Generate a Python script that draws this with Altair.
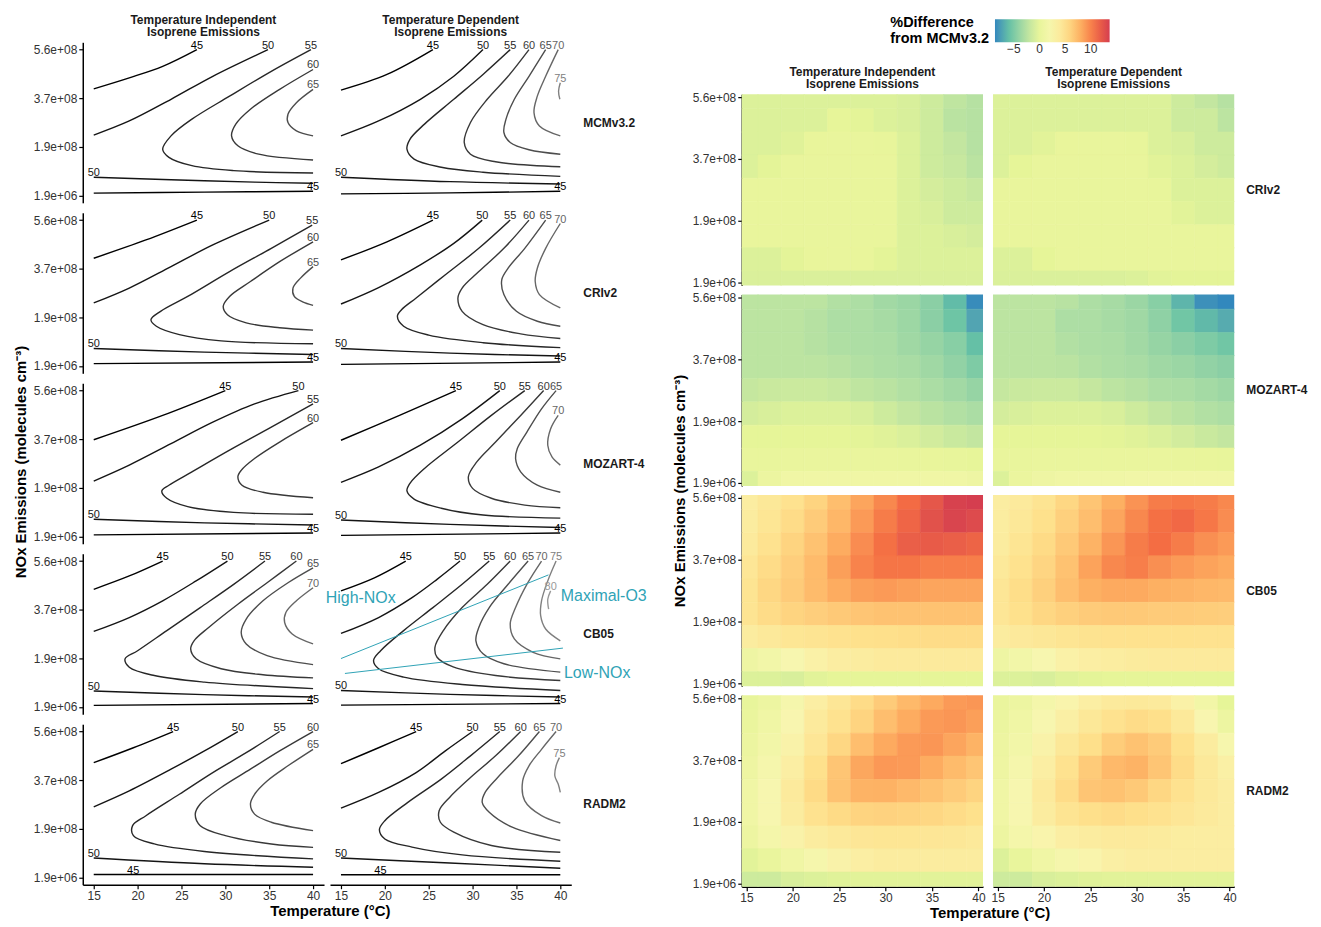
import altair as alt
import pandas as pd

FONT = "Liberation Sans"
TEAL = "#2fa3b6"

MECHS = ["MCMv3.2", "CRIv2", "MOZART-4", "CB05", "RADM2"]
HEAT_MECHS = ["CRIv2", "MOZART-4", "CB05", "RADM2"]
EMIS = {"TI": "Temperature Independent", "TD": "Temperature Dependent"}
EMIS_ORDER = ["Temperature Independent", "Temperature Dependent"]
LEVELS = [45, 50, 55, 60, 65, 70, 75, 80]
LEVEL_GREYS = ["#000000", "#141414", "#262626", "#383838", "#4d4d4d", "#666666", "#808080", "#999999"]

T_TICKS = [15, 20, 25, 30, 35, 40]
NOX_TICKS = [0.019, 1.879, 3.74, 5.6]  # units of 1e8 molecules cm-3

# O3 isopleths: mechanism, emissions, level, label position, temperatures (C), NOx (1e8)
CONTOURS = [
    ("MCMv3.2", "TI", 45, "e", [15, 19.05, 22.86, 26.76], [4.10, 4.52, 4.96, 5.60]),
    ("MCMv3.2", "TI", 50, "e", [15, 19.05, 23.81, 28.57, 34.86], [2.33, 2.87, 3.70, 4.58, 5.60]),
    ("MCMv3.2", "TI", 55, "s", [39.76, 35.24, 30.48, 26.19, 23.81, 22.86, 23.57, 26.19, 30.95, 40], [5.60, 4.77, 3.82, 2.94, 2.30, 1.79, 1.48, 1.16, 0.97, 0.88]),
    ("MCMv3.2", "TI", 60, "s", [40, 36.19, 32.86, 31.19, 30.71, 31.43, 33.81, 40], [4.84, 4.08, 3.32, 2.75, 2.30, 1.92, 1.60, 1.38]),
    ("MCMv3.2", "TI", 65, "s", [40, 38.1, 37.14, 37.14, 38.1, 40], [4.08, 3.57, 3.13, 2.81, 2.49, 2.30]),
    ("MCMv3.2", "TI", 50, "sl", [15, 23.81, 33.33, 40], [0.72, 0.62, 0.53, 0.49]),
    ("MCMv3.2", "TI", 45, "el", [15, 27.6, 40], [0.11, 0.15, 0.18]),

    ("MCMv3.2", "TD", 45, "e", [15, 20.24, 25.48], [4.05, 4.65, 5.60]),
    ("MCMv3.2", "TD", 50, "e", [15, 19.29, 24.05, 27.86, 31.19], [2.30, 2.87, 3.70, 4.58, 5.60]),
    ("MCMv3.2", "TD", 55, "s", [34.29, 31.19, 27.86, 24.52, 22.86, 22.52, 23.33, 26.43, 31.19, 40], [5.60, 4.65, 3.70, 2.75, 2.17, 1.79, 1.41, 1.10, 0.91, 0.75]),
    ("MCMv3.2", "TD", 60, "s", [36.43, 34.05, 31.67, 29.76, 29.05, 29.76, 32.62, 40], [5.60, 4.58, 3.70, 2.81, 2.05, 1.60, 1.31, 1.12]),
    ("MCMv3.2", "TD", 65, "s", [38.33, 36.43, 34.76, 33.81, 33.57, 34.29, 36.43, 40], [5.60, 4.58, 3.70, 2.94, 2.43, 2.05, 1.77, 1.60]),
    ("MCMv3.2", "TD", 70, "s", [39.76, 38.33, 37.38, 37.0, 37.62, 40], [5.60, 4.58, 3.82, 3.19, 2.68, 2.30]),
    ("MCMv3.2", "TD", 75, "s", [40, 39.8, 39.95], [4.33, 4.01, 3.70]),
    ("MCMv3.2", "TD", 50, "sl", [15, 27.4, 40], [0.72, 0.55, 0.46]),
    ("MCMv3.2", "TD", 45, "el", [15, 27.4, 40], [0.08, 0.12, 0.18]),

    ("CRIv2", "TI", 45, "e", [15, 20.95, 26.76], [4.14, 4.84, 5.60]),
    ("CRIv2", "TI", 50, "e", [15, 19.05, 23.81, 28.57, 35], [2.43, 3.0, 3.82, 4.65, 5.60]),
    ("CRIv2", "TI", 55, "s", [39.9, 35.24, 30.48, 25.71, 22.62, 21.52, 22.14, 24.76, 29.52, 40], [5.41, 4.52, 3.63, 2.68, 2.11, 1.79, 1.54, 1.22, 0.98, 0.87]),
    ("CRIv2", "TI", 60, "s", [40, 36.19, 32.86, 30.48, 29.76, 30.24, 32.38, 36.19, 40], [4.77, 4.01, 3.25, 2.68, 2.30, 1.98, 1.67, 1.48, 1.39]),
    ("CRIv2", "TI", 65, "s", [40, 38.57, 37.71, 37.86, 38.81, 40], [3.82, 3.38, 3.0, 2.68, 2.47, 2.34]),
    ("CRIv2", "TI", 50, "sl", [15, 27.6, 40], [0.69, 0.55, 0.46]),
    ("CRIv2", "TI", 45, "el", [15, 40], [0.11, 0.17]),

    ("CRIv2", "TD", 45, "e", [15, 20.24, 25.48], [4.08, 4.77, 5.60]),
    ("CRIv2", "TD", 50, "e", [15, 19.29, 24.05, 27.86, 31.1], [2.39, 3.02, 3.89, 4.71, 5.60]),
    ("CRIv2", "TD", 55, "s", [34.29, 30.71, 26.9, 23.57, 21.9, 21.43, 22.14, 25.0, 31.19, 40], [5.60, 4.52, 3.51, 2.62, 2.17, 1.92, 1.54, 1.20, 0.91, 0.72]),
    ("CRIv2", "TD", 60, "s", [36.43, 33.57, 30.71, 28.81, 28.33, 28.81, 31.19, 35.48, 40], [5.60, 4.52, 3.63, 3.0, 2.62, 2.11, 1.60, 1.25, 1.07]),
    ("CRIv2", "TD", 65, "s", [38.33, 35.95, 34.05, 33.33, 33.57, 35.0, 37.38, 40], [5.60, 4.52, 3.76, 3.32, 2.75, 2.11, 1.73, 1.54]),
    ("CRIv2", "TD", 70, "s", [40, 38.33, 37.38, 37.14, 37.62, 40], [5.47, 4.52, 3.76, 3.25, 2.75, 2.24]),
    ("CRIv2", "TD", 50, "sl", [15, 27.4, 40], [0.69, 0.51, 0.40]),
    ("CRIv2", "TD", 45, "el", [15, 40], [0.08, 0.17]),

    ("MOZART-4", "TI", 45, "e", [15, 22.86, 30.0], [3.72, 4.65, 5.60]),
    ("MOZART-4", "TI", 50, "e", [15, 19.05, 23.81, 28.57, 33.33, 38.33], [2.14, 2.75, 3.57, 4.39, 5.09, 5.60]),
    ("MOZART-4", "TI", 55, "s", [40, 35.24, 30.48, 26.19, 23.57, 22.76, 23.33, 25.71, 30.95, 40], [5.09, 4.20, 3.32, 2.49, 1.98, 1.76, 1.48, 1.16, 0.94, 0.87]),
    ("MOZART-4", "TI", 60, "s", [40, 36.19, 33.33, 31.81, 31.43, 31.9, 34.29, 40], [4.37, 3.63, 3.0, 2.55, 2.30, 1.98, 1.71, 1.50]),
    ("MOZART-4", "TI", 50, "sl", [15, 27.6, 40], [0.68, 0.54, 0.46]),
    ("MOZART-4", "TI", 45, "el", [15, 40], [0.08, 0.15]),

    ("MOZART-4", "TD", 45, "e", [15, 21.67, 28.1], [3.70, 4.65, 5.60]),
    ("MOZART-4", "TD", 50, "e", [15, 19.29, 24.05, 28.81, 33.1], [2.09, 2.68, 3.51, 4.52, 5.60]),
    ("MOZART-4", "TD", 55, "s", [35.95, 32.14, 28.33, 24.52, 22.86, 22.52, 23.33, 26.43, 31.19, 40], [5.60, 4.65, 3.63, 2.62, 2.05, 1.76, 1.45, 1.10, 0.84, 0.72]),
    ("MOZART-4", "TD", 60, "s", [38.1, 35.48, 32.62, 30.48, 29.52, 30.0, 32.14, 35.95, 40], [5.60, 4.65, 3.63, 2.87, 2.30, 1.86, 1.48, 1.22, 1.12]),
    ("MOZART-4", "TD", 65, "s", [39.52, 37.86, 36.19, 35.1, 34.9, 35.48, 37.38, 40], [5.60, 4.90, 4.01, 3.38, 3.0, 2.49, 1.98, 1.71]),
    ("MOZART-4", "TD", 70, "s", [39.76, 38.9, 38.57, 39.05, 40], [4.65, 4.14, 3.51, 3.06, 2.75]),
    ("MOZART-4", "TD", 50, "sl", [15, 27.4, 40], [0.65, 0.48, 0.36]),
    ("MOZART-4", "TD", 45, "el", [15, 40], [0.06, 0.15]),

    ("CB05", "TI", 45, "e", [15, 19.05, 22.86], [4.52, 5.03, 5.60]),
    ("CB05", "TI", 50, "e", [15, 19.05, 22.86, 26.67, 30.24], [2.91, 3.44, 4.08, 4.84, 5.60]),
    ("CB05", "TI", 55, "s", [34.52, 30.95, 27.14, 23.33, 20.0, 18.57, 19.05, 21.9, 27.62, 40], [5.60, 4.71, 3.82, 2.94, 2.17, 1.86, 1.54, 1.22, 0.97, 0.72]),
    ("CB05", "TI", 60, "s", [38.1, 34.76, 31.43, 28.1, 26.43, 26.05, 26.67, 29.52, 34.29, 40], [5.60, 4.77, 3.95, 3.06, 2.55, 2.24, 1.86, 1.48, 1.25, 1.13]),
    ("CB05", "TI", 65, "s", [40, 37.14, 34.29, 32.38, 31.81, 32.38, 34.76, 40], [5.34, 4.77, 4.08, 3.38, 2.87, 2.43, 1.98, 1.64]),
    ("CB05", "TI", 70, "s", [40, 38.1, 36.9, 36.76, 37.62, 40], [4.58, 4.08, 3.63, 3.25, 2.81, 2.43]),
    ("CB05", "TI", 50, "sl", [15, 27.6, 40], [0.63, 0.49, 0.40]),
    ("CB05", "TI", 45, "el", [15, 40], [0.08, 0.15]),

    ("CB05", "TD", 45, "e", [15, 18.81, 22.38], [4.46, 4.96, 5.60]),
    ("CB05", "TD", 50, "e", [15, 19.29, 23.1, 25.95, 28.57], [2.83, 3.44, 4.20, 4.90, 5.60]),
    ("CB05", "TD", 55, "s", [31.9, 28.81, 25.48, 22.14, 19.52, 18.71, 19.29, 22.14, 28.81, 40], [5.60, 4.71, 3.82, 2.94, 2.17, 1.79, 1.48, 1.16, 0.88, 0.65]),
    ("CB05", "TD", 60, "s", [34.29, 31.67, 28.81, 26.67, 25.71, 25.95, 27.86, 32.62, 40], [5.60, 4.71, 3.82, 2.94, 2.30, 1.92, 1.54, 1.22, 1.03]),
    ("CB05", "TD", 65, "s", [36.33, 34.05, 31.9, 30.71, 30.38, 31.19, 33.57, 40], [5.60, 4.71, 3.82, 3.06, 2.55, 2.05, 1.67, 1.35]),
    ("CB05", "TD", 70, "s", [37.86, 36.19, 34.9, 34.29, 34.76, 36.9, 40], [5.60, 4.71, 3.82, 3.19, 2.62, 2.11, 1.86]),
    ("CB05", "TD", 75, "s", [39.52, 38.57, 37.86, 37.76, 38.33, 40], [5.60, 4.84, 4.08, 3.51, 3.0, 2.55]),
    ("CB05", "TD", 80, "s", [38.9, 38.57, 38.67], [4.46, 4.14, 3.76]),
    ("CB05", "TD", 50, "sl", [15, 27.4, 40], [0.65, 0.50, 0.40]),
    ("CB05", "TD", 45, "el", [15, 40], [0.09, 0.15]),

    ("RADM2", "TI", 45, "e", [15, 19.52, 24.05], [4.41, 4.98, 5.60]),
    ("RADM2", "TI", 50, "e", [15, 19.05, 23.81, 27.62, 31.43], [2.72, 3.33, 4.16, 4.86, 5.60]),
    ("RADM2", "TI", 55, "s", [36.19, 32.38, 28.57, 24.76, 20.95, 19.43, 19.52, 21.9, 27.62, 40], [5.60, 4.79, 4.03, 3.20, 2.38, 2.0, 1.62, 1.30, 1.01, 0.73]),
    ("RADM2", "TI", 60, "s", [40, 36.19, 32.86, 29.52, 27.14, 26.57, 27.14, 30.0, 35.24, 40], [5.60, 4.86, 4.16, 3.46, 2.83, 2.44, 2.0, 1.62, 1.30, 1.17]),
    ("RADM2", "TI", 65, "s", [40, 37.14, 34.76, 33.33, 32.86, 33.33, 35.24, 40], [4.92, 4.29, 3.71, 3.20, 2.83, 2.44, 2.13, 1.81]),
    ("RADM2", "TI", 50, "sl", [15, 27.6, 40], [0.76, 0.54, 0.41]),
    ("RADM2", "TI", 45, (19.5, 0.13), [15, 40], [0.13, 0.13]),

    ("RADM2", "TD", 45, "e", [15, 19.29, 23.57], [4.37, 4.98, 5.60]),
    ("RADM2", "TD", 50, "e", [15, 19.29, 23.57, 26.9, 30.0], [2.67, 3.27, 4.03, 4.86, 5.60]),
    ("RADM2", "TD", 55, "s", [33.1, 29.76, 26.43, 22.62, 20.0, 19.38, 20.0, 23.1, 28.81, 40], [5.60, 4.67, 3.78, 2.89, 2.19, 1.85, 1.49, 1.18, 0.88, 0.64]),
    ("RADM2", "TD", 60, "s", [35.48, 32.62, 29.76, 27.38, 26.19, 26.33, 27.86, 32.14, 40], [5.60, 4.67, 3.84, 3.08, 2.57, 2.13, 1.75, 1.24, 0.98]),
    ("RADM2", "TD", 65, "s", [37.62, 35.24, 32.86, 31.43, 31.1, 31.9, 34.52, 40], [5.60, 4.67, 3.84, 3.27, 2.89, 2.51, 1.94, 1.43]),
    ("RADM2", "TD", 70, "s", [39.52, 37.86, 36.43, 35.71, 35.95, 37.86, 40], [5.60, 4.92, 4.29, 3.71, 2.95, 2.38, 2.10]),
    ("RADM2", "TD", 75, "s", [39.9, 39.52, 39.38, 39.76, 40], [4.60, 4.29, 3.90, 3.59, 3.27]),
    ("RADM2", "TD", 50, "sl", [15, 27.4, 40], [0.76, 0.57, 0.37]),
    ("RADM2", "TD", 45, (19.5, 0.12), [15, 40], [0.12, 0.12]),
]

# Regime guide lines drawn on the CB05 temperature-dependent panel
GUIDE_PANEL = ("CB05", "TD")
GUIDE_LINES = [([15.0, 38.65], [1.87, 5.07]), ([15.45, 40.3], [1.30, 2.27])]
GUIDE_TEXT = [("High-NOx", 17.25, 4.20), ("Maximal-O3", 44.95, 4.28), ("Low-NOx", 44.2, 1.30)]

# %Difference from MCMv3.2 (grid rows from high NOx to low NOx)
HEAT_T = [15.0, 17.5, 20.0, 22.5, 25.0, 27.5, 30.0, 32.5, 35.0, 37.5, 40.0]
HEAT_NOX = [5.60, 4.90, 4.20, 3.51, 2.81, 2.11, 1.41, 0.72, 0.02]
HEAT = {
    ("CRIv2", "TI"): [
        [-0.8, -0.8, -0.8, -0.8, -0.8, -0.8, -0.8, -1.0, -1.5, -2.2, -2.6],
        [-0.8, -0.8, -0.8, -0.8, -0.2, -0.4, -0.8, -1.0, -1.5, -2.4, -2.6],
        [-0.8, -0.8, -0.6, 0.1, 0.2, 0.2, 0.0, -0.8, -1.5, -2.0, -2.6],
        [-0.8, -0.4, 0.2, 0.2, 0.2, 0.2, 0.2, -0.8, -1.5, -1.8, -2.4],
        [0.2, 0.2, 0.2, 0.2, 0.2, 0.2, 0.2, -0.8, -1.2, -1.5, -1.8],
        [0.2, 0.2, 0.2, 0.2, 0.2, 0.2, 0.2, -0.8, -1.0, -1.5, -1.5],
        [0.2, 0.2, 0.2, 0.2, 0.2, 0.2, 0.2, -0.8, -0.8, -1.0, -1.2],
        [-0.8, -0.8, -0.4, 0.1, 0.2, 0.1, -0.4, -0.8, -0.8, -0.8, -0.8],
        [-0.9, -0.9, -0.9, -0.9, -0.9, -0.9, -0.9, -0.9, -0.9, -0.9, -0.9],
    ],
    ("CRIv2", "TD"): [
        [-0.8, -0.8, -0.8, -0.8, -0.8, -0.8, -0.8, -0.8, -1.5, -2.0, -2.6],
        [-0.8, -0.8, -0.8, -0.8, -0.8, -0.8, -0.8, -0.8, -1.5, -1.5, -2.3],
        [-0.8, -0.8, -0.5, 0.1, 0.2, 0.2, 0.0, -0.8, -1.0, -1.5, -1.5],
        [-0.8, -0.3, 0.2, 0.2, 0.2, 0.2, 0.2, -0.5, -0.8, -1.2, -1.5],
        [0.2, 0.2, 0.2, 0.2, 0.2, 0.2, 0.2, 0.0, -0.8, -0.8, -0.8],
        [0.2, 0.2, 0.2, 0.2, 0.2, 0.2, 0.2, 0.2, -0.5, -0.8, -0.8],
        [0.2, 0.2, 0.2, 0.2, 0.2, 0.2, 0.2, 0.2, 0.2, 0.2, 0.2],
        [-0.8, -0.8, -0.3, 0.2, 0.2, 0.2, 0.2, 0.2, 0.2, 0.2, 0.2],
        [-0.9, -0.9, -0.9, -0.9, -0.9, -0.9, -0.8, -0.5, -0.4, -0.4, -0.4],
    ],
    ("MOZART-4", "TI"): [
        [-2.3, -2.3, -2.3, -2.3, -2.8, -3.0, -3.5, -3.8, -4.5, -6.2, -8.5],
        [-2.3, -2.3, -2.3, -2.6, -3.0, -3.0, -3.3, -3.7, -4.5, -5.6, -7.3],
        [-2.3, -2.3, -2.3, -2.6, -2.9, -3.0, -3.1, -3.6, -4.0, -4.6, -6.0],
        [-2.3, -2.3, -2.3, -2.3, -2.5, -2.8, -3.0, -3.2, -3.6, -4.2, -5.0],
        [-1.9, -1.7, -1.6, -1.6, -1.8, -2.2, -2.4, -2.8, -3.1, -3.5, -4.0],
        [-1.2, -1.0, -0.8, -0.8, -0.8, -1.0, -1.5, -2.0, -2.4, -2.8, -3.1],
        [-0.3, -0.3, -0.3, -0.3, -0.3, -0.4, -0.6, -0.9, -1.3, -1.7, -2.0],
        [0.2, 0.2, 0.3, 0.3, 0.3, 0.3, 0.3, 0.2, 0.1, 0.0, -0.2],
        [-0.8, 0.6, 1.2, 1.2, 1.2, 1.2, 1.2, 1.2, 1.2, 1.2, 1.0],
    ],
    ("MOZART-4", "TD"): [
        [-2.3, -2.3, -2.3, -2.5, -3.0, -3.3, -3.8, -4.6, -6.5, -8.3, -8.7],
        [-2.3, -2.3, -2.3, -3.0, -3.0, -3.3, -3.6, -4.3, -5.5, -6.3, -7.0],
        [-2.3, -2.3, -2.3, -2.8, -3.0, -3.1, -3.5, -4.0, -4.5, -5.0, -5.5],
        [-2.3, -2.3, -2.3, -2.4, -2.8, -3.0, -3.2, -3.6, -3.8, -4.2, -4.5],
        [-1.9, -1.7, -1.6, -1.6, -1.9, -2.3, -2.6, -3.0, -3.1, -3.4, -3.7],
        [-1.2, -1.0, -0.8, -0.8, -0.8, -1.0, -1.5, -2.0, -2.4, -2.8, -3.0],
        [-0.3, -0.3, -0.3, -0.3, -0.3, -0.4, -0.6, -0.9, -1.3, -1.7, -2.0],
        [0.2, 0.2, 0.3, 0.3, 0.3, 0.3, 0.3, 0.3, 0.2, 0.1, 0.0],
        [-0.8, 0.4, 1.0, 1.2, 1.3, 1.3, 1.4, 1.4, 1.4, 1.4, 1.4],
    ],
    ("CB05", "TI"): [
        [3.6, 4.3, 5.0, 6.0, 7.2, 8.5, 9.8, 11.0, 12.3, 13.5, 13.7],
        [3.8, 4.6, 5.5, 6.5, 7.6, 9.0, 10.3, 11.4, 12.6, 13.3, 13.0],
        [4.0, 5.0, 6.0, 7.0, 8.2, 9.6, 10.8, 11.8, 12.0, 11.8, 11.5],
        [4.5, 5.5, 6.3, 7.4, 8.8, 10.0, 10.6, 10.6, 10.2, 10.2, 10.2],
        [4.8, 5.8, 6.5, 7.4, 8.2, 8.8, 9.0, 8.8, 8.5, 8.5, 8.5],
        [4.8, 5.5, 6.0, 6.3, 6.6, 6.8, 7.0, 7.0, 7.0, 7.0, 7.0],
        [3.8, 4.2, 4.6, 4.8, 5.0, 5.2, 5.3, 5.4, 5.5, 5.5, 5.5],
        [1.0, 1.6, 2.4, 3.2, 3.6, 3.8, 4.0, 4.0, 4.0, 4.0, 4.0],
        [-0.8, -0.8, -1.0, -0.5, -0.3, -0.3, -0.3, -0.3, -0.3, -0.3, -0.3],
    ],
    ("CB05", "TD"): [
        [3.6, 4.0, 4.8, 5.8, 6.8, 8.0, 9.3, 10.3, 10.5, 10.3, 9.8],
        [3.7, 4.3, 5.2, 6.2, 7.2, 8.5, 9.8, 10.8, 11.2, 10.5, 9.6],
        [3.8, 4.7, 5.6, 6.6, 7.8, 9.2, 10.3, 10.9, 10.3, 9.5, 9.0],
        [4.2, 5.1, 5.9, 7.0, 8.6, 9.8, 10.2, 9.5, 9.0, 8.6, 8.3],
        [4.5, 5.4, 6.2, 7.2, 8.0, 8.3, 8.3, 8.0, 7.8, 7.6, 7.5],
        [4.5, 5.2, 5.8, 6.2, 6.5, 6.6, 6.6, 6.5, 6.5, 6.4, 6.3],
        [3.8, 4.1, 4.4, 4.7, 4.9, 5.0, 5.1, 5.1, 5.1, 5.0, 5.0],
        [1.0, 1.6, 2.4, 3.2, 3.5, 3.7, 3.9, 4.0, 4.0, 4.0, 4.0],
        [-0.8, -0.8, -1.0, -0.6, -0.4, -0.3, -0.3, -0.3, -0.3, -0.3, -0.3],
    ],
    ("RADM2", "TI"): [
        [0.0, 0.8, 2.0, 3.5, 4.5, 5.5, 6.5, 7.5, 8.3, 9.0, 9.2],
        [0.3, 1.2, 2.6, 4.0, 5.0, 6.0, 7.2, 8.2, 9.0, 9.2, 8.8],
        [0.6, 1.6, 3.0, 4.5, 5.8, 7.2, 8.3, 9.0, 9.2, 8.5, 7.8],
        [0.9, 2.0, 3.5, 5.2, 6.8, 8.4, 9.1, 9.0, 8.2, 7.4, 6.8],
        [1.2, 2.4, 4.0, 5.6, 7.0, 7.8, 7.9, 7.5, 7.0, 6.5, 6.0],
        [1.2, 2.4, 3.8, 5.0, 5.6, 6.0, 6.1, 6.0, 5.8, 5.5, 5.2],
        [0.8, 1.8, 3.0, 3.8, 4.2, 4.5, 4.6, 4.6, 4.5, 4.4, 4.2],
        [-0.5, 0.3, 1.2, 2.0, 3.0, 3.5, 3.8, 3.8, 3.8, 3.8, 3.8],
        [-1.5, -1.5, -1.0, -0.8, -0.6, -0.5, -0.5, -0.5, -0.5, -0.5, -0.5],
    ],
    ("RADM2", "TD"): [
        [0.3, 0.8, 1.8, 2.8, 3.5, 4.0, 4.2, 4.0, 3.2, 1.5, -0.3],
        [0.5, 1.2, 2.4, 3.4, 4.3, 5.0, 5.5, 5.3, 4.2, 2.6, 0.8],
        [0.7, 1.6, 3.0, 4.3, 5.3, 6.4, 7.0, 6.5, 5.2, 3.8, 2.2],
        [0.9, 2.0, 3.5, 5.0, 6.5, 7.5, 7.8, 6.8, 5.5, 4.2, 3.3],
        [1.2, 2.4, 4.0, 5.5, 6.8, 7.0, 6.6, 5.8, 5.0, 4.2, 3.6],
        [1.2, 2.4, 3.8, 4.8, 5.3, 5.5, 5.3, 5.0, 4.5, 4.0, 3.6],
        [0.8, 1.8, 2.8, 3.5, 3.8, 4.0, 4.0, 3.9, 3.7, 3.6, 3.6],
        [-0.8, 0.2, 1.2, 2.0, 2.8, 3.4, 3.6, 3.6, 3.6, 3.6, 3.6],
        [-1.5, -1.5, -1.0, -0.8, -0.6, -0.5, -0.5, -0.5, -0.5, -0.5, -0.5],
    ],
}

SPECTRAL_REV = ["#3288bd", "#66c2a5", "#abdda4", "#e6f598", "#f8f6b0",
                "#fee08b", "#fdae61", "#f46d43", "#d53e4f"]
DIFF_LIMITS = [-8.7, 13.7]

# ---------------------------------------------------------------- left data
rows = []
for mech, em, lev, lab, ts, ns in CONTOURS:
    lid = f"{mech}|{em}|{lev}|{ns[0]}"
    base = dict(mech=mech, emis=EMIS[em], level=lev, lid=lid)
    for i, (t, n) in enumerate(zip(ts, ns)):
        rows.append(dict(base, kind="line", idx=i, T=t, NOx=n))
    if lab == "s":
        rows.append(dict(base, kind="labtop", idx=0, T=ts[0], NOx=ns[0]))
    elif lab == "e":
        rows.append(dict(base, kind="labtop", idx=0, T=ts[-1], NOx=ns[-1]))
    elif lab == "sl":
        rows.append(dict(base, kind="lablow", idx=0, T=ts[0], NOx=ns[0]))
    elif lab == "el":
        rows.append(dict(base, kind="lablow", idx=0, T=ts[-1], NOx=ns[-1]))
    else:
        rows.append(dict(base, kind="lablow", idx=0, T=lab[0], NOx=lab[1]))

gm, ge = GUIDE_PANEL
for k, (ts, ns) in enumerate(GUIDE_LINES):
    for i, (t, n) in enumerate(zip(ts, ns)):
        rows.append(dict(mech=gm, emis=EMIS[ge], kind="guide", lid=f"g{k}", idx=i, T=t, NOx=n))
for txt, t, n in GUIDE_TEXT:
    rows.append(dict(mech=gm, emis=EMIS[ge], kind="gtext", label=txt, idx=0, T=t, NOx=n))
df_left = pd.DataFrame(rows)

# ---------------------------------------------------------------- right data
hrows = []
for (mech, em), grid in HEAT.items():
    for n, row in zip(HEAT_NOX, grid):
        for t, v in zip(HEAT_T, row):
            hrows.append(dict(mech=mech, emis=EMIS[em], diff=v,
                              x1=t - 1.25, x2=t + 1.25, y1=n - 0.35, y2=n + 0.35))
df_heat = pd.DataFrame(hrows)

# ---------------------------------------------------------------- shared bits
LABEL_EXPR = "replace(format(datum.value * 1e8, '.1e'), 'e+', 'e+0')"
Y_TITLE = "NOx Emissions (molecules cm⁻³)"
X_TITLE = "Temperature (°C)"


def col_header():
    return alt.Header(labelExpr="[datum.value, 'Isoprene Emissions']", labelOrient="top",
                      labelFontWeight="bold", labelFontSize=12, labelColor="#1a1a1a",
                      labelFont=FONT, labelPadding=3, labelLineHeight=12)


def row_header(pad):
    return alt.Header(labelAngle=0, labelOrient="right", labelAlign="right",
                      labelPadding=pad, labelFontWeight="bold", labelFontSize=12,
                      labelColor="#1a1a1a", labelFont=FONT,
                      titleOrient="left", titleFont=FONT, titleFontSize=15,
                      titleFontWeight="bold", titleColor="black", titlePadding=-6)


def x_title():
    return alt.TitleParams(X_TITLE, orient="bottom", anchor="middle", font=FONT,
                           fontSize=15, fontWeight="bold", color="black", offset=2)


# ---------------------------------------------------------------- left chart
ex = alt.X("T:Q", scale=alt.Scale(domain=[13.75, 41.25], nice=False, zero=False),
           axis=alt.Axis(values=T_TICKS, title=None))
ey = alt.Y("NOx:Q", scale=alt.Scale(domain=[-0.26, 5.88], nice=False, zero=False),
           axis=alt.Axis(values=NOX_TICKS, labelExpr=LABEL_EXPR, title=None))
grey = alt.Color("level:O", scale=alt.Scale(domain=LEVELS, range=LEVEL_GREYS), legend=None)

lines = alt.Chart().mark_line(interpolate="catmull-rom", strokeWidth=1.4).encode(
    x=ex, y=ey, color=grey, detail="lid:N", order="idx:Q"
).transform_filter("datum.kind == 'line'")
lab_top = alt.Chart().mark_text(baseline="bottom", dy=1, fontSize=11, font=FONT).encode(
    x=ex, y=ey, text="level:N", color=grey
).transform_filter("datum.kind == 'labtop'")
lab_low = alt.Chart().mark_text(baseline="middle", dy=-4, fontSize=11, font=FONT).encode(
    x=ex, y=ey, text="level:N", color=grey
).transform_filter("datum.kind == 'lablow'")
guide = alt.Chart().mark_line(color=TEAL, strokeWidth=1).encode(
    x=ex, y=ey, detail="lid:N", order="idx:Q"
).transform_filter("datum.kind == 'guide'")
gtext = alt.Chart().mark_text(color=TEAL, fontSize=16, font=FONT).encode(
    x=ex, y=ey, text="label:N"
).transform_filter("datum.kind == 'gtext'")

left = alt.layer(lines, lab_top, lab_low, guide, gtext, data=df_left).properties(
    width=242, height=161
).facet(
    row=alt.Row("mech:N", sort=MECHS, title=Y_TITLE, header=row_header(12)),
    column=alt.Column("emis:N", sort=EMIS_ORDER, title=None, header=col_header()),
    spacing={"row": 10, "column": 6},
    bounds="flush",
).properties(title=x_title())

# ---------------------------------------------------------------- right chart
n_stops = len(SPECTRAL_REV)
stops = [DIFF_LIMITS[0] + i * (DIFF_LIMITS[1] - DIFF_LIMITS[0]) / (n_stops - 1) for i in range(n_stops)]
cscale = alt.Scale(domain=stops, range=SPECTRAL_REV, interpolate="lab")

heat = alt.Chart(df_heat).mark_rect(clip=True, strokeWidth=0.6).encode(
    x=alt.X("x1:Q", scale=alt.Scale(domain=[14.5, 40.5], nice=False, zero=False),
            axis=alt.Axis(values=T_TICKS, title=None)),
    x2="x2:Q",
    y=alt.Y("y1:Q", scale=alt.Scale(domain=[-0.07, 5.69], nice=False, zero=False),
            axis=alt.Axis(values=NOX_TICKS, labelExpr=LABEL_EXPR, title=None)),
    y2="y2:Q",
    color=alt.Color("diff:Q", scale=cscale, legend=None),
    stroke=alt.Stroke("diff:Q", scale=cscale, legend=None),
).properties(width=242, height=192).facet(
    row=alt.Row("mech:N", sort=HEAT_MECHS, title=Y_TITLE, header=row_header(12)),
    column=alt.Column("emis:N", sort=EMIS_ORDER, title=None, header=col_header()),
    spacing={"row": 9, "column": 10},
).properties(title=x_title())

# legend-only view placed above the heat maps
legend_view = alt.Chart(pd.DataFrame({"diff": DIFF_LIMITS})).mark_point(opacity=0).encode(
    color=alt.Color("diff:Q", scale=cscale, legend=alt.Legend(
        type="gradient", orient="none", legendX=149, legendY=-23, direction="horizontal",
        title=["%Difference", "from MCMv3.2"], titleOrient="left", titleFontSize=14.5,
        titleFontWeight="bold", titleColor="black", titleFont=FONT, titleLineHeight=16,
        gradientLength=115, gradientThickness=23, values=[-5, 0, 5, 10],
        labelFontSize=12, labelColor="#333333", labelFont=FONT)),
).properties(width=1, height=30)

right = alt.vconcat(legend_view, heat, spacing=-6).resolve_scale(
    color="independent", stroke="independent").resolve_legend(color="independent")

chart = alt.hconcat(left, right, spacing=25).resolve_scale(
    x="independent", y="independent", color="independent"
).resolve_legend(color="independent").configure(font=FONT).configure_view(
    stroke=None
).configure_axis(
    grid=False, domainColor="black", domainWidth=1.5, tickColor="black", tickWidth=1.2,
    tickSize=4, labelColor="#333333", labelFontSize=12, labelFont=FONT,
)

chart.save("out.html", embed_options={"renderer": "svg", "actions": False})
